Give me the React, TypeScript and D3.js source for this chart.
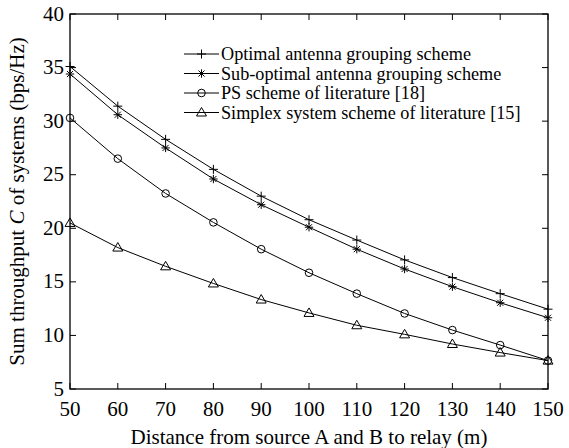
import * as d3 from "d3";
import { useEffect, useRef } from "react";

const distances = [50, 60, 70, 80, 90, 100, 110, 120, 130, 140, 150];
const optimal = [35.1, 31.4, 28.3, 25.5, 23.0, 20.8, 18.9, 17.05, 15.4, 13.9, 12.45];
const subOptimal = [34.4, 30.6, 27.5, 24.6, 22.2, 20.1, 18.05, 16.2, 14.55, 13.05, 11.65];
const psScheme = [30.3, 26.5, 23.25, 20.55, 18.05, 15.85, 13.9, 12.05, 10.5, 9.1, 7.65];
const simplex = [20.5, 18.2, 16.45, 14.85, 13.35, 12.1, 10.95, 10.1, 9.2, 8.4, 7.65];

const xTicks = [50, 60, 70, 80, 90, 100, 110, 120, 130, 140, 150];
const yTicks = [5, 10, 15, 20, 25, 30, 35, 40];

const seriesNames = [
  "Optimal antenna grouping scheme",
  "Sub-optimal antenna grouping scheme",
  "PS scheme of literature [18]",
  "Simplex system scheme of literature [15]",
];
const markerTypes = ["plus", "star", "circle", "triangle"];

const FONT = "'Liberation Serif', 'Times New Roman', serif";

export default function App() {
  const svgRef = useRef<SVGSVGElement | null>(null);

  useEffect(() => {
    const width = 569;
    const height = 448;
    const margin = { left: 70, right: 21, top: 14, bottom: 59 };

    const x = d3.scaleLinear().domain([50, 150]).range([margin.left, width - margin.right]);
    const y = d3.scaleLinear().domain([5, 40]).range([height - margin.bottom, margin.top]);

    const svg = d3.select(svgRef.current);
    svg.selectAll("*").remove();

    const x0 = x(50), x1 = x(150), y0 = y(5), y1 = y(40);
    const tick = 6;

    // ticks, inward on all four sides
    const ax = svg.append("g").attr("stroke", "#000").attr("stroke-width", 1);
    xTicks.forEach((t) => {
      ax.append("line").attr("x1", x(t)).attr("x2", x(t)).attr("y1", y0).attr("y2", y0 - tick);
      ax.append("line").attr("x1", x(t)).attr("x2", x(t)).attr("y1", y1).attr("y2", y1 + tick);
    });
    yTicks.forEach((t) => {
      ax.append("line").attr("x1", x0).attr("x2", x0 + tick).attr("y1", y(t)).attr("y2", y(t));
      ax.append("line").attr("x1", x1).attr("x2", x1 - tick).attr("y1", y(t)).attr("y2", y(t));
    });
    svg
      .append("rect")
      .attr("x", x0)
      .attr("y", y1)
      .attr("width", x1 - x0)
      .attr("height", y0 - y1)
      .attr("fill", "none")
      .attr("stroke", "#000")
      .attr("stroke-width", 1.3);

    svg
      .append("g")
      .selectAll("text")
      .data(xTicks)
      .join("text")
      .attr("x", (d) => x(d))
      .attr("y", y0 + 27)
      .attr("text-anchor", "middle")
      .style("font-family", FONT)
      .style("font-size", "21px")
      .text((d) => d);

    svg
      .append("g")
      .selectAll("text")
      .data(yTicks)
      .join("text")
      .attr("x", x0 - 6)
      .attr("y", (d) => y(d) + 6.5)
      .attr("text-anchor", "end")
      .style("font-family", FONT)
      .style("font-size", "21px")
      .text((d) => d);

    svg
      .append("text")
      .attr("x", (x0 + x1) / 2)
      .attr("y", 444)
      .attr("text-anchor", "middle")
      .style("font-family", FONT)
      .style("font-size", "21px")
      .text("Distance from source A and B to relay (m)");

    const yl = svg
      .append("text")
      .attr("transform", `translate(24,${(y0 + y1) / 2}) rotate(-90)`)
      .attr("text-anchor", "middle")
      .style("font-family", FONT)
      .style("font-size", "21px");
    yl.append("tspan").text("Sum throughput ");
    yl.append("tspan").style("font-style", "italic").text("C");
    yl.append("tspan").text(" of systems (bps/Hz)");

    const allSeries = [optimal, subOptimal, psScheme, simplex];

    const drawMarker = (g: any, type: string, cx: number, cy: number) => {
      if (type === "plus") {
        g.append("path").attr("d", `M${cx - 4.5},${cy}H${cx + 4.5}M${cx},${cy - 4.5}V${cy + 4.5}`);
      } else if (type === "star") {
        const r = 4.2;
        const d = r * 0.72;
        g.append("path").attr(
          "d",
          `M${cx - r},${cy}H${cx + r}M${cx},${cy - r}V${cy + r}M${cx - d},${cy - d}L${cx + d},${cy + d}M${cx - d},${cy + d}L${cx + d},${cy - d}`
        );
      } else if (type === "circle") {
        g.append("circle").attr("cx", cx).attr("cy", cy).attr("r", 3.8);
      } else {
        g.append("path").attr("d", `M${cx},${cy - 5}L${cx + 5},${cy + 3.5}L${cx - 5},${cy + 3.5}Z`);
      }
    };

    const line = d3
      .line<number>()
      .x((_, i) => x(distances[i]))
      .y((d) => y(d));

    allSeries.forEach((vals, si) => {
      const g = svg.append("g").attr("fill", "none").attr("stroke", "#000").attr("stroke-width", 1);
      g.append("path").attr("d", line(vals));
      vals.forEach((v, i) => drawMarker(g, markerTypes[si], x(distances[i]), y(v)));
    });

    // legend
    const legend = svg.append("g");
    seriesNames.forEach((name, i) => {
      const ly = 54 + i * 19.5;
      const g = legend.append("g").attr("fill", "none").attr("stroke", "#000").attr("stroke-width", 1);
      g.append("line").attr("x1", 184).attr("x2", 219).attr("y1", ly).attr("y2", ly);
      drawMarker(g, markerTypes[i], 201.5, ly);
      legend
        .append("text")
        .attr("x", 221)
        .attr("y", ly + 6)
        .style("font-family", FONT)
        .style("font-size", "18.2px")
        .text(name);
    });
  }, []);

  return (
    <svg
      ref={svgRef}
      width={569}
      height={448}
      viewBox="0 0 569 448"
      style={{ position: "absolute", left: 0, top: 0, background: "#fff" }}
    />
  );
}
